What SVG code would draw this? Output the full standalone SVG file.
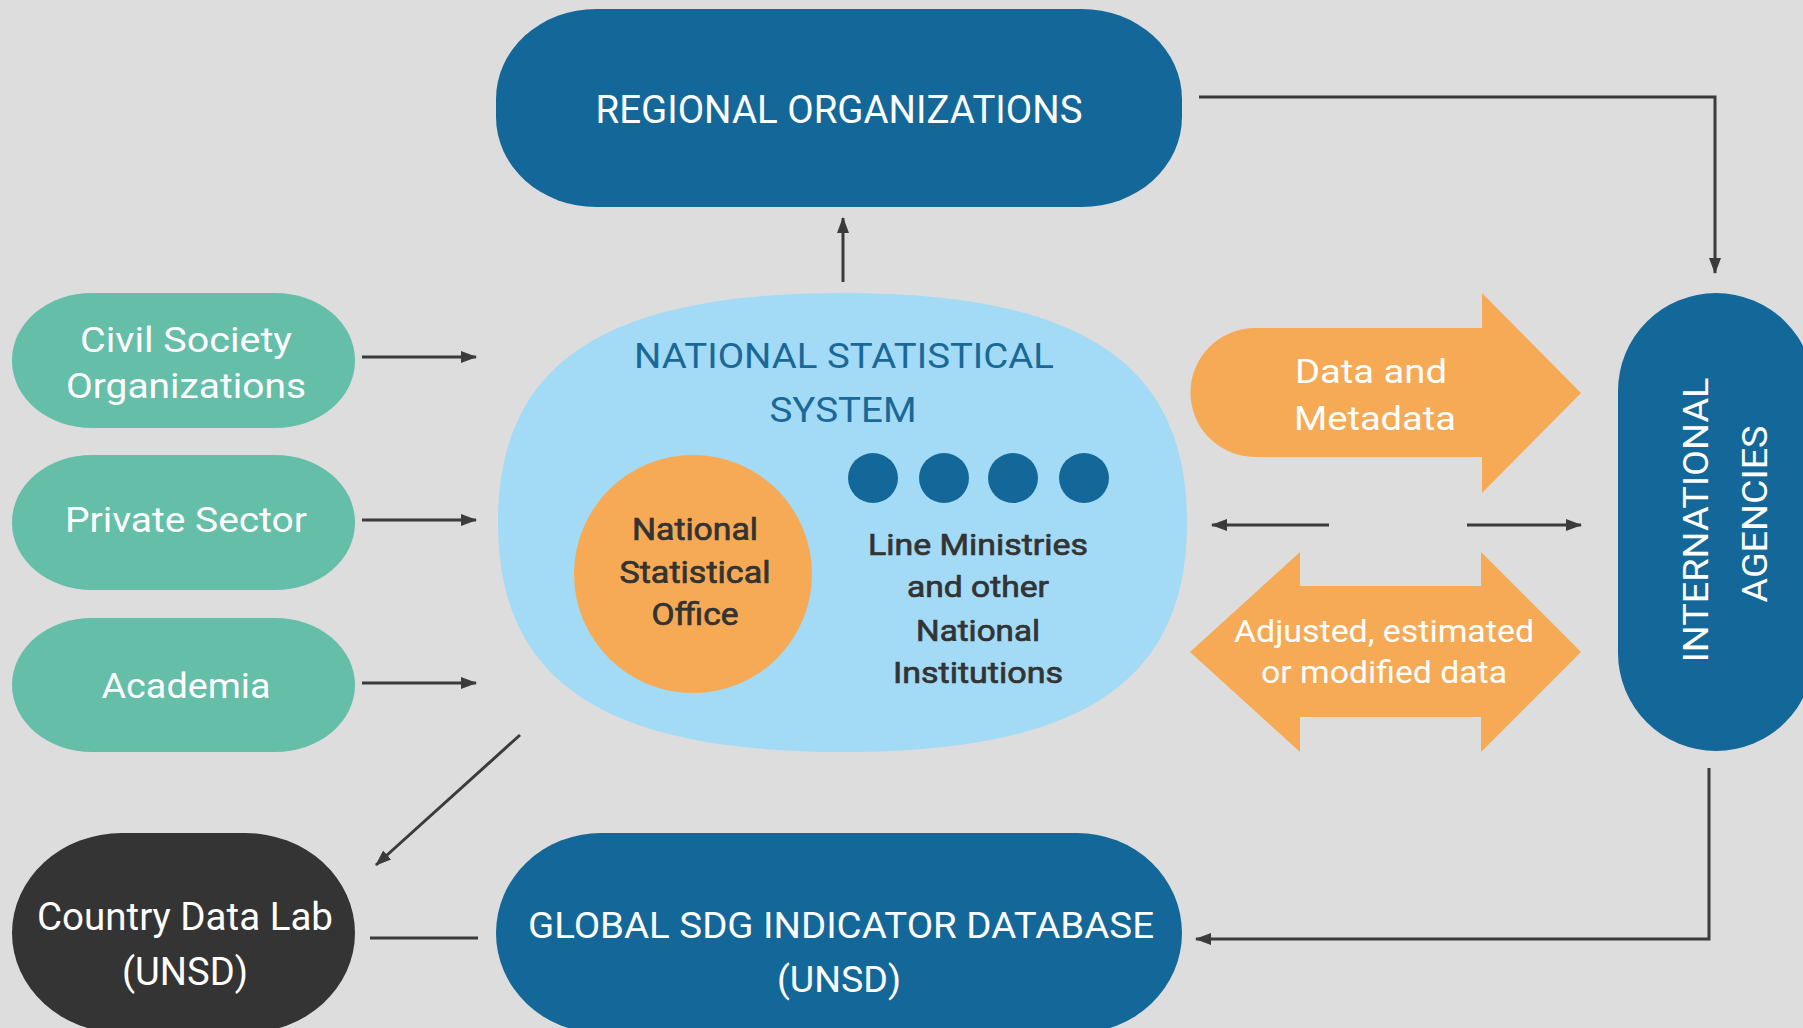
<svg xmlns="http://www.w3.org/2000/svg" width="1803" height="1028" viewBox="0 0 1803 1028">
<defs>
<style>
.t{font-family:Roboto,"Liberation Sans",sans-serif;text-anchor:middle}
.w{fill:#ffffff}
.dk{fill:#333333;font-weight:normal;stroke:#333333;stroke-width:0.7}
.nb{fill:#1a6898}
.blue{fill:#146899}
.teal{fill:#64bea8}
.org{fill:#f6aa55}
.con{stroke:#3b3b3b;stroke-width:3;fill:none}
</style>
<marker id="ah" viewBox="0 0 16 12" refX="15" refY="6" markerWidth="16" markerHeight="12" orient="auto" markerUnits="userSpaceOnUse"><path d="M0,0 L16,6 L0,12 Z" fill="#3b3b3b"/></marker>
</defs>
<rect width="1803" height="1028" fill="#dddddd"/>

<g id="regional">
<rect class="blue" x="496" y="9" width="686" height="198" rx="100" ry="90"/>
<text class="t w" x="839" y="123" font-size="39" textLength="487" lengthAdjust="spacingAndGlyphs">REGIONAL ORGANIZATIONS</text>
</g>

<g id="civil">
<rect class="teal" x="12" y="293" width="343" height="135" rx="80" ry="67"/>
<text class="t w" x="186" y="352" font-size="35" textLength="212" lengthAdjust="spacingAndGlyphs">Civil Society</text>
<text class="t w" x="186" y="398" font-size="35" textLength="240" lengthAdjust="spacingAndGlyphs">Organizations</text>
</g>
<g id="private">
<rect class="teal" x="12" y="455" width="343" height="135" rx="80" ry="67"/>
<text class="t w" x="186" y="532" font-size="35" textLength="242" lengthAdjust="spacingAndGlyphs">Private Sector</text>
</g>
<g id="academia">
<rect class="teal" x="12" y="618" width="343" height="134" rx="80" ry="67"/>
<text class="t w" x="186" y="698" font-size="35" textLength="169" lengthAdjust="spacingAndGlyphs">Academia</text>
</g>

<g id="nss">
<path fill="#a3daf6" d="M842.5,293 C605,293 498,362 498,522.5 C498,683 605,752 842.5,752 C1080,752 1187,683 1187,522.5 C1187,362 1080,293 842.5,293 Z"/>
<text class="t nb" x="844" y="368" font-size="35" textLength="420" lengthAdjust="spacingAndGlyphs">NATIONAL STATISTICAL</text>
<text class="t nb" x="843" y="422" font-size="35" textLength="147" lengthAdjust="spacingAndGlyphs">SYSTEM</text>
</g>
<g id="nso">
<circle class="org" cx="693" cy="574" r="119"/>
<text class="t dk" x="695" y="540" font-size="31" textLength="126" lengthAdjust="spacingAndGlyphs">National</text>
<text class="t dk" x="695" y="583" font-size="31" textLength="151" lengthAdjust="spacingAndGlyphs">Statistical</text>
<text class="t dk" x="695" y="625" font-size="31" textLength="87" lengthAdjust="spacingAndGlyphs">Office</text>
</g>
<g id="line-ministries">
<circle class="blue" cx="873" cy="478" r="25"/>
<circle class="blue" cx="944" cy="478" r="25"/>
<circle class="blue" cx="1013" cy="478" r="25"/>
<circle class="blue" cx="1084" cy="478" r="25"/>
<text class="t dk" x="978" y="555" font-size="30" textLength="220" lengthAdjust="spacingAndGlyphs">Line Ministries</text>
<text class="t dk" x="978" y="597" font-size="30" textLength="142" lengthAdjust="spacingAndGlyphs">and other</text>
<text class="t dk" x="978" y="641" font-size="30" textLength="124" lengthAdjust="spacingAndGlyphs">National</text>
<text class="t dk" x="978" y="683" font-size="30" textLength="170" lengthAdjust="spacingAndGlyphs">Institutions</text>
</g>

<g id="data-metadata">
<path class="org" d="M1255,328 H1482 V293 L1581,393 L1482,493 V457 H1255 A64.5,64.5 0 0 1 1255,328 Z"/>
<text class="t w" x="1371" y="383" font-size="33" textLength="152" lengthAdjust="spacingAndGlyphs">Data and</text>
<text class="t w" x="1375" y="430" font-size="33" textLength="162" lengthAdjust="spacingAndGlyphs">Metadata</text>
</g>

<g id="adjusted-data">
<path class="org" d="M1190,652 L1300,552 V586 H1481 V552 L1581,652 L1481,752 V717 H1300 V752 Z"/>
<text class="t w" x="1384" y="642" font-size="32" textLength="300" lengthAdjust="spacingAndGlyphs">Adjusted, estimated</text>
<text class="t w" x="1384" y="683" font-size="32" textLength="246" lengthAdjust="spacingAndGlyphs">or modified data</text>
</g>

<g id="international">
<rect class="blue" x="1618" y="293" width="196" height="458" rx="98" ry="98"/>
<text class="t w" transform="translate(1708,520) rotate(-90)" x="0" y="0" font-size="35" textLength="285" lengthAdjust="spacingAndGlyphs">INTERNATIONAL</text>
<text class="t w" transform="translate(1767,514) rotate(-90)" x="0" y="0" font-size="35" textLength="177" lengthAdjust="spacingAndGlyphs">AGENCIES</text>
</g>

<g id="global">
<rect class="blue" x="496" y="833" width="686" height="200" rx="105" ry="100"/>
<text class="t w" x="841" y="938" font-size="37" textLength="626" lengthAdjust="spacingAndGlyphs">GLOBAL SDG INDICATOR DATABASE</text>
<text class="t w" x="839" y="992" font-size="37" textLength="124" lengthAdjust="spacingAndGlyphs">(UNSD)</text>
</g>

<g id="country-lab">
<rect fill="#343434" x="12" y="833" width="343" height="200" rx="110" ry="100"/>
<text class="t w" x="185" y="930" font-size="38" textLength="296" lengthAdjust="spacingAndGlyphs">Country Data Lab</text>
<text class="t w" x="185" y="985" font-size="38" textLength="126" lengthAdjust="spacingAndGlyphs">(UNSD)</text>
</g>

<g id="connectors">
<line class="con" x1="843" y1="282" x2="843" y2="218" marker-end="url(#ah)"/>
<polyline class="con" points="1199,97 1715,97 1715,273" marker-end="url(#ah)"/>
<line class="con" x1="362" y1="357" x2="476" y2="357" marker-end="url(#ah)"/>
<line class="con" x1="362" y1="520" x2="476" y2="520" marker-end="url(#ah)"/>
<line class="con" x1="362" y1="683" x2="476" y2="683" marker-end="url(#ah)"/>
<line class="con" x1="1329" y1="525" x2="1212" y2="525" marker-end="url(#ah)"/>
<line class="con" x1="1467" y1="525" x2="1581" y2="525" marker-end="url(#ah)"/>
<polyline class="con" points="1709,768 1709,939 1196,939" marker-end="url(#ah)"/>
<line class="con" x1="520" y1="735" x2="376" y2="865" marker-end="url(#ah)"/>
<line class="con" x1="370" y1="938" x2="478" y2="938"/>
</g>
</svg>
